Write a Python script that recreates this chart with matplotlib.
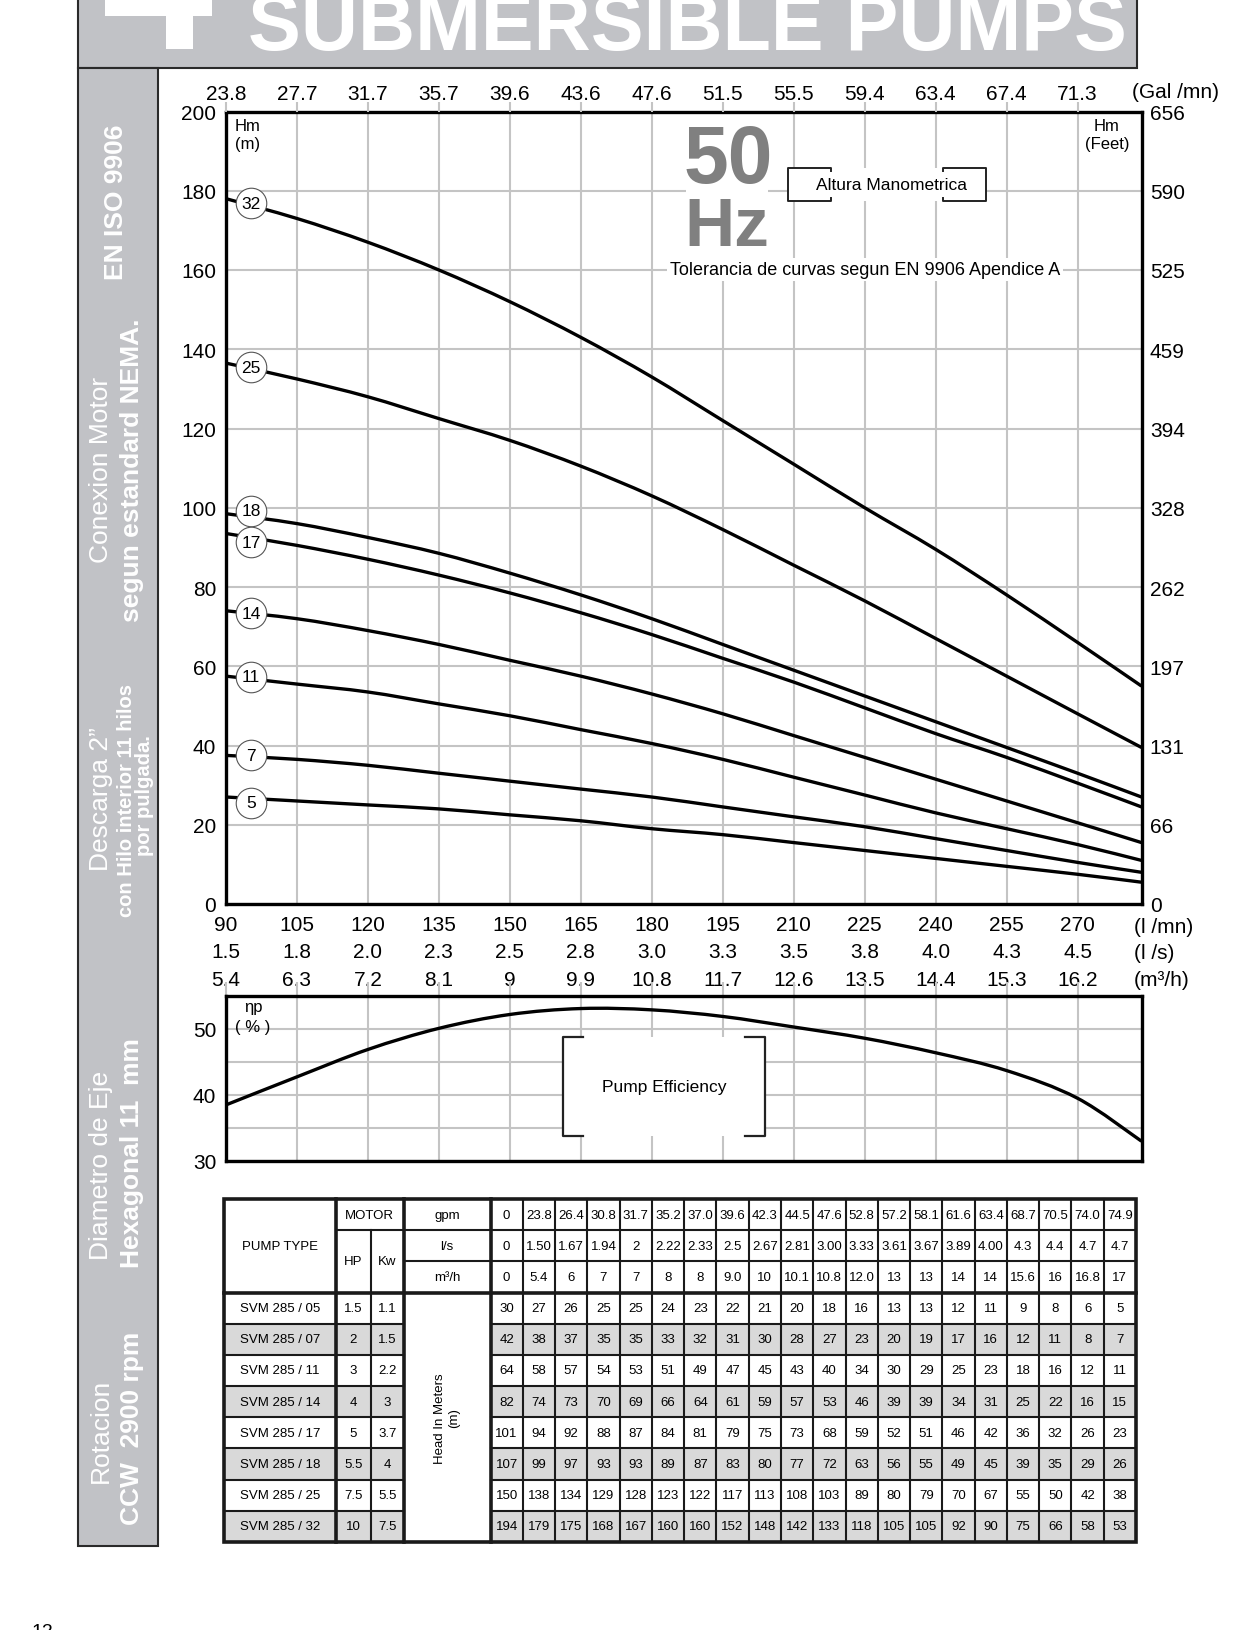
import numpy as np
import matplotlib
matplotlib.use("Agg")
import matplotlib.pyplot as plt
from matplotlib.patches import Rectangle, PathPatch
from matplotlib.path import Path
import matplotlib.transforms as mtransforms

plt.rcParams['font.family'] = ['Liberation Sans', 'DejaVu Sans']

# ------------------------------------------------------------------ data
flow_lmin = [90, 105, 120, 135, 150, 165, 180, 195, 210, 225, 240, 255, 270, 283.5]

tick_lmin = [90, 105, 120, 135, 150, 165, 180, 195, 210, 225, 240, 255, 270]
tick_lmin_labels = ["90", "105", "120", "135", "150", "165", "180", "195", "210",
                    "225", "240", "255", "270"]
tick_ls_labels = ["1.5", "1.8", "2.0", "2.3", "2.5", "2.8", "3.0", "3.3", "3.5",
                  "3.8", "4.0", "4.3", "4.5"]
tick_m3h_labels = ["5.4", "6.3", "7.2", "8.1", "9", "9.9", "10.8", "11.7", "12.6",
                   "13.5", "14.4", "15.3", "16.2"]
tick_gpm_labels = ["23.8", "27.7", "31.7", "35.7", "39.6", "43.6", "47.6", "51.5",
                   "55.5", "59.4", "63.4", "67.4", "71.3"]

head_ticks_m = [0, 20, 40, 60, 80, 100, 120, 140, 160, 180, 200]
head_ticks_ft = ["0", "66", "131", "197", "262", "328", "394", "459", "525", "590", "656"]

curve_names = ["32", "25", "18", "17", "14", "11", "7", "5"]
label_flow = 95.3
label_heads = [176.9, 135.4, 99.2, 91.3, 73.4, 57.4, 37.5, 25.5]
head_32 = [178, 173, 167, 160, 152, 143, 133, 122, 111, 100, 89.5, 78, 66, 55]
head_25 = [136.5, 132.5, 128, 122.5, 117, 110.5, 103, 94.5, 85.5, 76.5, 67, 57.5, 48, 39.5]
head_18 = [98.5, 96, 92.5, 88.5, 83.5, 78, 72, 65.5, 59, 52.5, 46, 39.5, 33, 27]
head_17 = [93.5, 90.5, 87, 83, 78.5, 73.5, 68, 62, 56, 49.5, 43, 37, 30.5, 24.5]
head_14 = [74, 72, 69, 65.5, 61.5, 57.5, 53, 48, 42.5, 37, 31.5, 26, 20.5, 15.5]
head_11 = [57.5, 55.5, 53.5, 50.5, 47.5, 44, 40.5, 36.5, 32, 27.5, 23, 19, 15, 11]
head_07 = [37.5, 36.5, 35, 33, 31, 29, 27, 24.5, 22, 19.5, 16.5, 13.5, 10.5, 8]
head_05 = [27, 26, 25, 24, 22.5, 21, 19, 17.5, 15.5, 13.5, 11.5, 9.5, 7.5, 5.5]
curve_heads = [head_32, head_25, head_18, head_17, head_14, head_11, head_07, head_05]

efficiency = [38.5, 42.75, 46.9, 50.1, 52.2, 53.1, 52.9, 51.9, 50.3, 48.6, 46.4, 43.7, 39.5, 33]
eff_ticks = [30, 40, 50]
eff_minor = [35, 45]

# table
tbl_gpm = ["0", "23.8", "26.4", "30.8", "31.7", "35.2", "37.0", "39.6", "42.3", "44.5",
           "47.6", "52.8", "57.2", "58.1", "61.6", "63.4", "68.7", "70.5", "74.0", "74.9"]
tbl_ls = ["0", "1.50", "1.67", "1.94", "2", "2.22", "2.33", "2.5", "2.67", "2.81",
          "3.00", "3.33", "3.61", "3.67", "3.89", "4.00", "4.3", "4.4", "4.7", "4.7"]
tbl_m3h = ["0", "5.4", "6", "7", "7", "8", "8", "9.0", "10", "10.1",
           "10.8", "12.0", "13", "13", "14", "14", "15.6", "16", "16.8", "17"]
pump_types = ["SVM 285 / 05", "SVM 285 / 07", "SVM 285 / 11", "SVM 285 / 14",
              "SVM 285 / 17", "SVM 285 / 18", "SVM 285 / 25", "SVM 285 / 32"]
motor_hp = ["1.5", "2", "3", "4", "5", "5.5", "7.5", "10"]
motor_kw = ["1.1", "1.5", "2.2", "3", "3.7", "4", "5.5", "7.5"]
tbl_head_05 = [30, 27, 26, 25, 25, 24, 23, 22, 21, 20, 18, 16, 13, 13, 12, 11, 9, 8, 6, 5]
tbl_head_07 = [42, 38, 37, 35, 35, 33, 32, 31, 30, 28, 27, 23, 20, 19, 17, 16, 12, 11, 8, 7]
tbl_head_11 = [64, 58, 57, 54, 53, 51, 49, 47, 45, 43, 40, 34, 30, 29, 25, 23, 18, 16, 12, 11]
tbl_head_14 = [82, 74, 73, 70, 69, 66, 64, 61, 59, 57, 53, 46, 39, 39, 34, 31, 25, 22, 16, 15]
tbl_head_17 = [101, 94, 92, 88, 87, 84, 81, 79, 75, 73, 68, 59, 52, 51, 46, 42, 36, 32, 26, 23]
tbl_head_18 = [107, 99, 97, 93, 93, 89, 87, 83, 80, 77, 72, 63, 56, 55, 49, 45, 39, 35, 29, 26]
tbl_head_25 = [150, 138, 134, 129, 128, 123, 122, 117, 113, 108, 103, 89, 80, 79, 70, 67, 55, 50, 42, 38]
tbl_head_32 = [194, 179, 175, 168, 167, 160, 160, 152, 148, 142, 133, 118, 105, 105, 92, 90, 75, 66, 58, 53]
tbl_heads = [tbl_head_05, tbl_head_07, tbl_head_11, tbl_head_14,
             tbl_head_17, tbl_head_18, tbl_head_25, tbl_head_32]

# ------------------------------------------------------------------ layout
W, H = 1258, 1631
GRID = '#c4c4c4'
SIDE = '#c1c2c6'


def frac(x0, y0, x1, y1):
    return [x0 / W, 1 - y1 / H, (x1 - x0) / W, (y1 - y0) / H]


def smooth_curve(axes, xs, ys, **kw):
    """Smooth (Catmull-Rom / Bezier) curve passing through the data points."""
    p = np.column_stack([xs, ys]).astype(float)
    n = len(p)
    verts = [p[0]]
    codes = [Path.MOVETO]
    for i in range(n - 1):
        p0 = p[i - 1] if i > 0 else p[i]
        p1 = p[i]
        p2 = p[i + 1]
        p3 = p[i + 2] if i + 2 < n else p[i + 1]
        verts += [p1 + (p2 - p0) / 6.0, p2 - (p3 - p1) / 6.0, p2]
        codes += [Path.CURVE4] * 3
    patch = PathPatch(Path(verts, codes), fc='none', **kw)
    axes.add_patch(patch)
    return patch


fig = plt.figure(figsize=(W / 100, H / 100), dpi=100)
fig.patch.set_facecolor('white')

page = fig.add_axes([0, 0, 1, 1], zorder=0)
page.set_xlim(0, W)
page.set_ylim(H, 0)
page.axis('off')

# header
page.add_patch(Rectangle((78, -10), 1137 - 78, 79, fc=SIDE, ec='#2a2a2a', lw=1.5))
page.add_patch(Rectangle((105, -5), 107, 22, fc='white', ec='none'))
page.add_patch(Rectangle((166, -5), 27, 55, fc='white', ec='none'))
page.text(687, 50, "SUBMERSIBLE PUMPS", color='white', fontsize=57, fontweight='bold',
          ha='center', va='baseline')

# sidebar
page.add_patch(Rectangle((78, 69), 80, 1547 - 69, fc=SIDE, ec='#2a2a2a', lw=1.5))
side_texts = [
    ("EN ISO 9906", 116, 202, 19, 'bold'),
    ("Conexion Motor", 101, 470, 19, 'normal'),
    ("segun estandard NEMA.", 132, 470, 19, 'bold'),
    ("Descarga 2\u201d", 101, 799, 19, 'normal'),
    ("con Hilo interior 11 hilos", 127, 801, 14.5, 'bold'),
    ("por pulgada.", 145, 796, 14.5, 'bold'),
    ("Diametro de Eje", 101, 1165, 19, 'normal'),
    ("Hexagonal 11  mm", 132, 1153, 19, 'bold'),
    ("Rotacion", 101, 1431, 19, 'normal'),
    ("CCW  2900 rpm", 132, 1428, 19, 'bold'),
]
for t, x, y, s, w in side_texts:
    page.text(x, y, t, rotation=90, ha='center', va='center', fontsize=s,
              fontweight=w, color='white')

page.text(42, 1624, "12", fontsize=14, ha='center', va='top')

# ------------------------------------------------------------------ main chart
ax = fig.add_axes(frac(226, 112.5, 1141.5, 905), zorder=2)
ax.set_xlim(flow_lmin[0], flow_lmin[-1])
ax.set_ylim(0, 200)
ax.set_xticks(tick_lmin)
ax.set_yticks(head_ticks_m)
ax.set_axisbelow(True)
ax.grid(True, color=GRID, lw=1.5)
ax.tick_params(axis='both', length=0, labelsize=15)
ax.tick_params(axis='x', labelbottom=False)
ax.tick_params(axis='y', pad=7)
for s in ax.spines.values():
    s.set_linewidth(2.4)

axr = ax.twinx()
axr.set_zorder(3)
axr.set_ylim(0, 200)
axr.set_yticks(head_ticks_m)
axr.set_yticklabels(head_ticks_ft)
axr.tick_params(axis='y', length=0, labelsize=15, pad=6)
for s in axr.spines.values():
    s.set_visible(False)

axt = ax.twiny()
axt.set_zorder(3)
axt.set_xlim(flow_lmin[0], flow_lmin[-1])
axt.set_xticks(tick_lmin)
axt.set_xticklabels(tick_gpm_labels)
axt.tick_params(axis='x', direction='out', length=7.5, width=1.5, color=GRID,
                labelsize=15, pad=-1.2)
for s in axt.spines.values():
    s.set_visible(False)

for name, heads, yl in zip(curve_names, curve_heads, label_heads):
    smooth_curve(ax, flow_lmin, heads, ec='black', lw=2.4, zorder=3, capstyle='butt')
    ax.plot([label_flow], [yl], 'o', ms=22, mfc='white', mec='#555555', mew=0.8, zorder=4)
    ax.text(label_flow, yl, name, ha='center', va='center', fontsize=12.5, zorder=5)

pt = page.transData
ax.text(235, 126.5, "Hm", transform=pt, fontsize=12, ha='left', va='center')
ax.text(235, 145, "(m)", transform=pt, fontsize=12, ha='left', va='center')
ax.text(1107, 126.5, "Hm", transform=pt, fontsize=12, ha='center', va='center')
ax.text(1107, 145, "(Feet)", transform=pt, fontsize=12, ha='center', va='center')

ax.add_patch(Rectangle((686, 114), 82, 152, transform=pt, fc='white', ec='none',
                       zorder=1.2, clip_on=False))
ax.text(728, 162, "50", transform=pt, fontsize=58, fontweight='bold', color='#808080',
        ha='center', va='center', zorder=2)
ax.text(727, 228, "Hz", transform=pt, fontsize=50, fontweight='bold', color='#808080',
        ha='center', va='center', zorder=2)

# Altura Manometrica bracket box
bx0, bx1, by0, by1, ser = 788, 986, 168.5, 202, 43
ax.add_patch(Rectangle((bx0, by0), bx1 - bx0, by1 - by0, transform=pt, fc='white',
                       ec='none', zorder=1.2, clip_on=False))
for xs, ys in [([bx0 + ser, bx0 + ser, bx0, bx0, bx0 + ser, bx0 + ser],
                [by0 + 3, by0, by0, by1, by1, by1 - 3]),
               ([bx1 - ser, bx1 - ser, bx1, bx1, bx1 - ser, bx1 - ser],
                [by0 + 3, by0, by0, by1, by1, by1 - 3])]:
    ax.plot(xs, ys, transform=pt, color='#222222', lw=1.4, clip_on=False, zorder=2)
ax.text((bx0 + bx1) / 2 + 4, (by0 + by1) / 2, "Altura Manometrica", transform=pt,
        fontsize=12.5, ha='center', va='center', zorder=2)

ax.text(865, 270.5, "Tolerancia de curvas segun EN 9906 Apendice A", transform=pt,
        fontsize=13, ha='center', va='center', zorder=2,
        bbox=dict(fc='white', ec='none', pad=2))

# bottom scale rows
tb = mtransforms.blended_transform_factory(ax.transData, page.transData)
for x, a, b, c in zip(tick_lmin, tick_lmin_labels, tick_ls_labels, tick_m3h_labels):
    page.text(x, 926, a, transform=tb, ha='center', va='center', fontsize=15)
    page.text(x, 953, b, transform=tb, ha='center', va='center', fontsize=15)
    page.text(x, 981, c, transform=tb, ha='center', va='center', fontsize=15)
page.text(1134, 928, "(l /mn)", ha='left', va='center', fontsize=15)
page.text(1134, 954, "(l /s)", ha='left', va='center', fontsize=15)
page.text(1134, 981, "(m\u00b3/h)", ha='left', va='center', fontsize=15)
page.text(1176, 93, "(Gal /mn)", ha='center', va='center', fontsize=15)

# ------------------------------------------------------------------ efficiency chart
ae = fig.add_axes(frac(226, 997, 1141.5, 1162), zorder=2)
ae.set_xlim(flow_lmin[0], flow_lmin[-1])
ae.set_ylim(30, 55)
ae.set_xticks(tick_lmin)
ae.set_yticks(eff_ticks)
ae.set_yticks(eff_minor, minor=True)
ae.set_axisbelow(True)
ae.grid(True, which='major', color=GRID, lw=1.5)
ae.grid(True, which='minor', axis='y', color=GRID, lw=1.5)
ae.tick_params(axis='y', which='both', length=0, labelsize=15, pad=7)
ae.tick_params(axis='x', bottom=False, labelbottom=False, top=True, direction='out',
               length=10, width=1.5, color=GRID)
for s in ae.spines.values():
    s.set_linewidth(2.4)
smooth_curve(ae, flow_lmin, efficiency, ec='black', lw=2.4, zorder=3, capstyle='butt')

ae.text(253, 1008, "\u03b7p", transform=pt, fontsize=12, ha='center', va='center')
ae.text(253, 1028, "( % )", transform=pt, fontsize=12, ha='center', va='center')

ex0, ex1, ey0, ey1, eser = 563, 765, 1038, 1137, 20
ae.add_patch(Rectangle((ex0, ey0), ex1 - ex0, ey1 - ey0, transform=pt, fc='white',
                       ec='none', zorder=1.2, clip_on=False))
ae.plot([ex0 + eser, ex0, ex0, ex0 + eser], [ey0, ey0, ey1, ey1], transform=pt,
        color='#222222', lw=1.6, clip_on=False, zorder=2)
ae.plot([ex1 - eser, ex1, ex1, ex1 - eser], [ey0, ey0, ey1, ey1], transform=pt,
        color='#222222', lw=1.6, clip_on=False, zorder=2)
ae.text((ex0 + ex1) / 2, 1088, "Pump Efficiency", transform=pt, fontsize=12.5,
        ha='center', va='center', zorder=2)

# ------------------------------------------------------------------ table
cx = [223.5, 336.0, 371.0, 403.5] + list(np.linspace(490.5, 1136.0, 21))
ry = list(np.linspace(1200.0, 1543.0, 12))
TFS = 9.5
LC = '#1a1a1a'

for i in range(8):
    y0, y1 = ry[3 + i], ry[4 + i]
    fc = '#d9d9d9' if i % 2 else 'white'
    page.add_patch(Rectangle((cx[0], y0), cx[3] - cx[0], y1 - y0, fc=fc, ec='none'))
    page.add_patch(Rectangle((cx[4], y0), cx[24] - cx[4], y1 - y0, fc=fc, ec='none'))


def hline(y, x0, x1, lw):
    page.plot([x0, x1], [y, y], color=LC, lw=lw, solid_capstyle='projecting')


def vline(x, y0, y1, lw):
    page.plot([x, x], [y0, y1], color=LC, lw=lw, solid_capstyle='projecting')


# inner rules
for j in range(5, 24):
    vline(cx[j], ry[0], ry[11], 1.5)
vline(cx[2], ry[1], ry[11], 1.5)
for k in range(4, 11):
    hline(ry[k], cx[0], cx[3], 1.5)
    hline(ry[k], cx[4], cx[24], 1.5)
hline(ry[1], cx[1], cx[24], 1.5)
hline(ry[2], cx[3], cx[24], 1.5)
# heavy rules
hline(ry[3], cx[0], cx[24], 2.6)
for j in (1, 3, 4):
    vline(cx[j], ry[0], ry[11], 2.6)
page.add_patch(Rectangle((cx[0], ry[0]), cx[24] - cx[0], ry[11] - ry[0], fc='none',
                         ec=LC, lw=2.6))


def cell_text(c0, c1, r0, r1, s, **kw):
    page.text((cx[c0] + cx[c1]) / 2, (ry[r0] + ry[r1]) / 2, s, ha='center',
              va='center', fontsize=TFS, **kw)


cell_text(0, 1, 0, 3, "PUMP TYPE")
cell_text(1, 3, 0, 1, "MOTOR")
cell_text(1, 2, 1, 3, "HP")
cell_text(2, 3, 1, 3, "Kw")
for r, (unit, vals) in enumerate([("gpm", tbl_gpm), ("l/s", tbl_ls), ("m\u00b3/h", tbl_m3h)]):
    cell_text(3, 4, r, r + 1, unit)
    for j, v in enumerate(vals):
        cell_text(4 + j, 5 + j, r, r + 1, v)
for i in range(8):
    r = 3 + i
    cell_text(0, 1, r, r + 1, pump_types[i])
    cell_text(1, 2, r, r + 1, motor_hp[i])
    cell_text(2, 3, r, r + 1, motor_kw[i])
    for j, v in enumerate(tbl_heads[i]):
        cell_text(4 + j, 5 + j, r, r + 1, str(v))
cell_text(3, 4, 3, 11, "Head In Meters\n(m)", rotation=90, linespacing=1.3)

fig.savefig('out.png', dpi=100)
